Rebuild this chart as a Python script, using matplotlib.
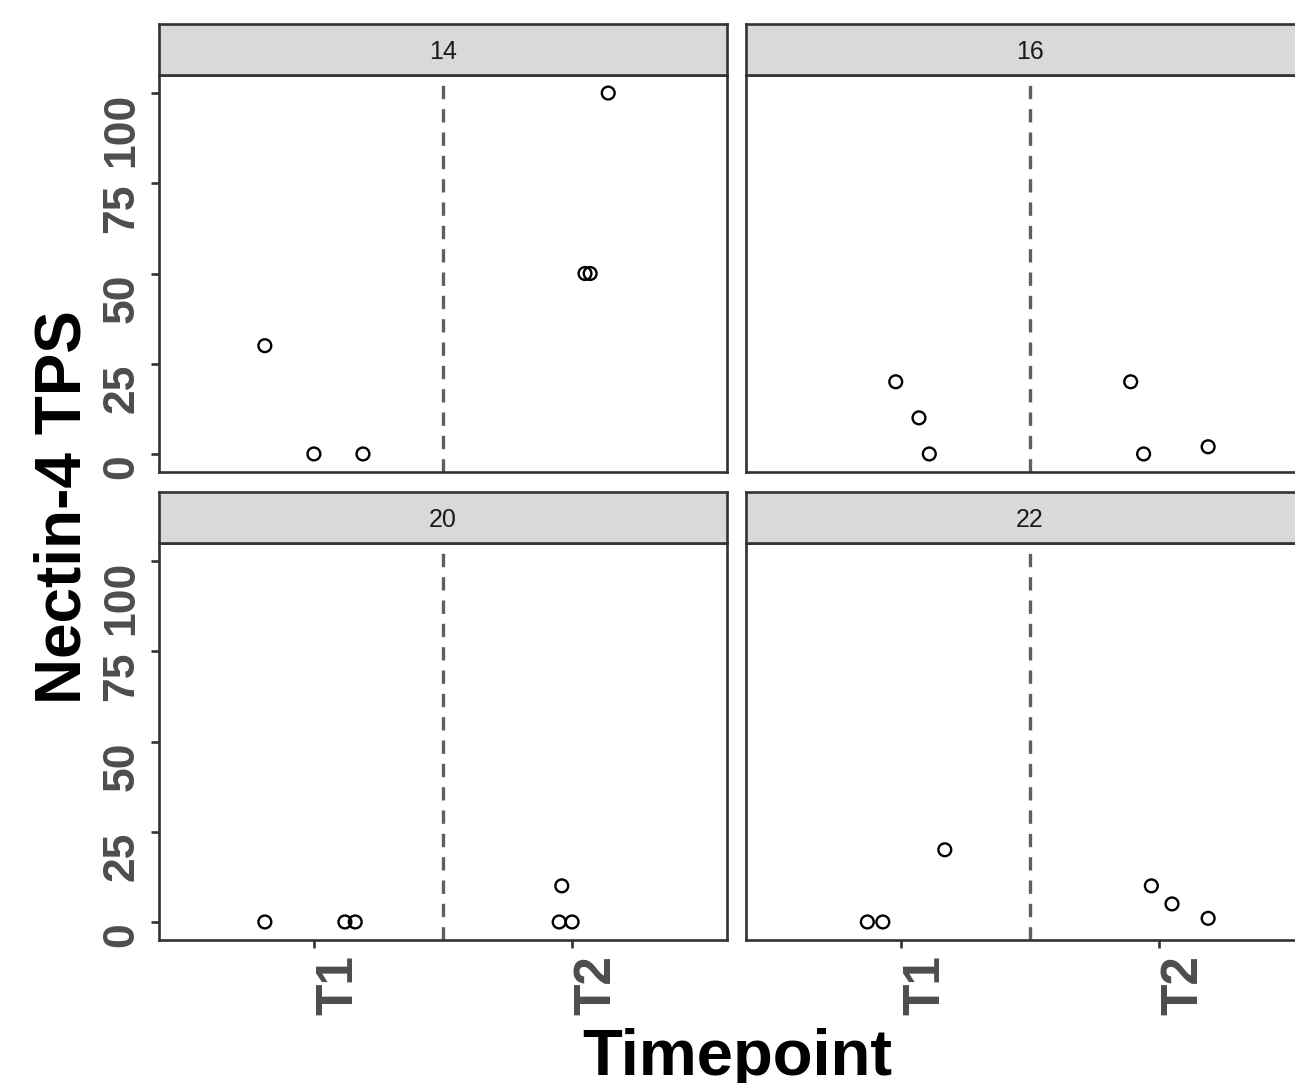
import matplotlib
matplotlib.use("Agg")
import matplotlib.pyplot as plt

plt.rcParams['font.family'] = ['Liberation Sans', 'DejaVu Sans']

patients = ['14', '16', '20', '22']
timepoints = ['T1', 'T2']
y_ticks = [0, 25, 50, 75, 100]

# jittered x position (1 = T1, 2 = T2) and TPS value for each point
x_14 = [0.81, 1.00, 1.19, 2.05, 2.07, 2.14]
y_14 = [30, 0, 0, 50, 50, 100]
x_16 = [0.98, 1.07, 1.11, 1.89, 1.94, 2.19]
y_16 = [20, 10, 0, 20, 0, 2]
x_20 = [0.81, 1.12, 1.16, 1.95, 2.00, 1.96]
y_20 = [0, 0, 0, 0, 0, 10]
x_22 = [0.87, 0.93, 1.17, 1.97, 2.05, 2.19]
y_22 = [0, 0, 20, 10, 5, 1]

xs = [x_14, x_16, x_20, x_22]
ys = [y_14, y_16, y_20, y_22]

W, H = 1295, 1083
fig = plt.figure(figsize=(W / 100, H / 100), dpi=100)

frame_col = '#333333'
tick_col = '#4D4D4D'

# panel boxes in pixels: left, top
lefts = [159, 746, 159, 746]
tops = [75, 75, 543, 543]
pw, ph, sh = 568, 397, 51

for i, p in enumerate(patients):
    l, t = lefts[i], tops[i]
    ax = fig.add_axes([l / W, 1 - (t + ph) / H, pw / W, ph / H])
    ax.scatter(xs[i], ys[i], s=85, facecolors='none', edgecolors='black',
               linewidths=1.7, zorder=3)
    ax.axvline(1.5, color='#5f5f5f', linestyle=(0, (4, 3)), linewidth=2.4)
    ax.set_xlim(0.4, 2.6)
    ax.set_ylim(-5, 105)
    for s in ax.spines.values():
        s.set_color(frame_col)
        s.set_linewidth(1.9)
    ax.set_xticks([1, 2])
    ax.set_yticks(y_ticks)
    ax.tick_params(color=frame_col, width=1.9, length=6)
    if i % 2 == 0:
        ax.set_yticklabels([str(v) for v in y_ticks], rotation=90, va='top',
                           fontsize=32, fontweight='bold', color=tick_col)
        ax.tick_params(axis='y', pad=6)
    else:
        ax.tick_params(axis='y', left=False, labelleft=False)
    if i >= 2:
        ax.set_xticklabels(timepoints, rotation=90, ha='left', va='top',
                           fontsize=37, fontweight='bold', color=tick_col)
        ax.tick_params(axis='x', pad=5)
    else:
        ax.tick_params(axis='x', bottom=False, labelbottom=False)

    # facet strip
    sax = fig.add_axes([l / W, 1 - t / H, pw / W, sh / H])
    sax.set_facecolor('#D9D9D9')
    sax.set_xticks([])
    sax.set_yticks([])
    for s in sax.spines.values():
        s.set_color(frame_col)
        s.set_linewidth(1.9)
    sax.text(0.5, 0.45, p, transform=sax.transAxes, ha='center', va='center',
             fontsize=18, color='#1A1A1A')

fig.text(64 / W, 1 - 507 / H, 'Nectin-4 TPS', rotation=90, ha='center',
         va='center', fontsize=46, fontweight='bold', color='black')
fig.text(737 / W, 1 - 1028 / H, 'Timepoint', ha='center', va='top',
         fontsize=47, fontweight='bold', color='black')

fig.savefig('out.png', dpi=100, facecolor='white')
